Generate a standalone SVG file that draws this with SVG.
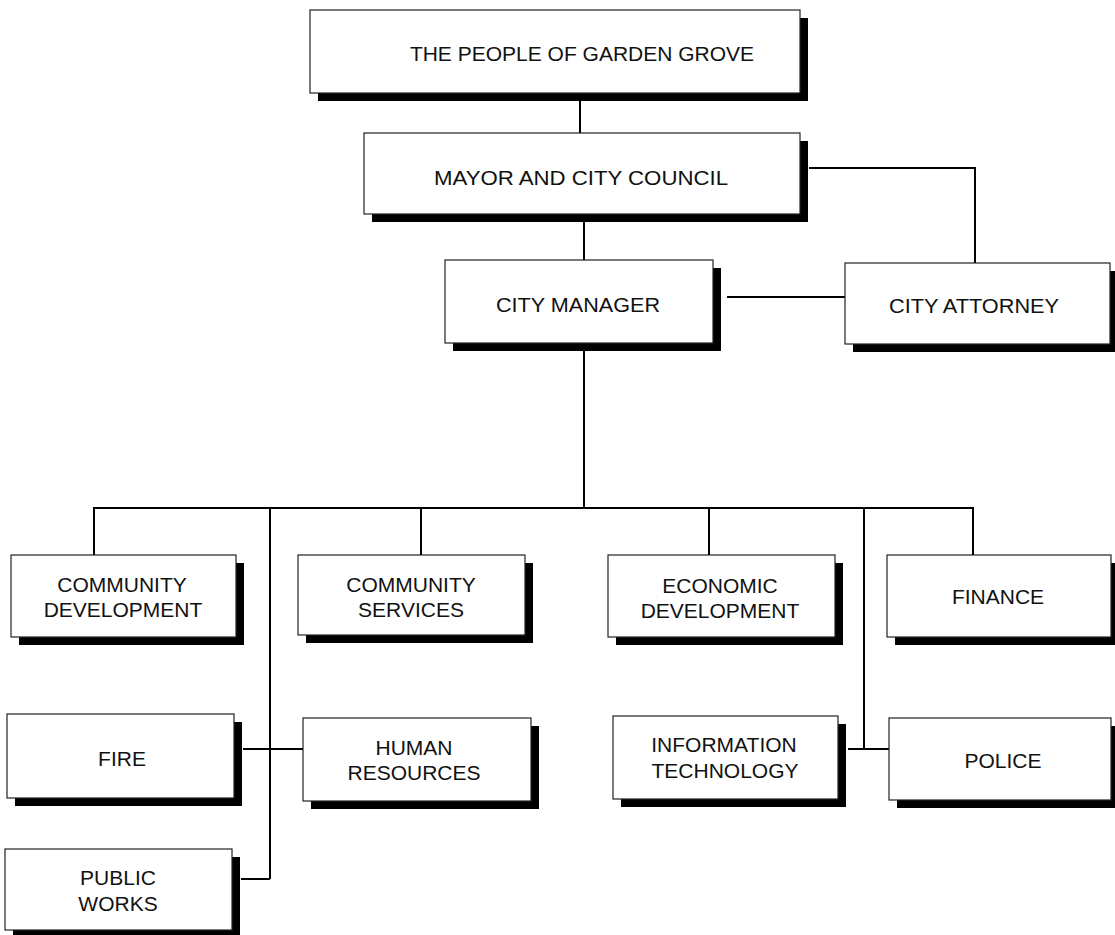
<svg xmlns="http://www.w3.org/2000/svg" width="1115" height="935" viewBox="0 0 1115 935">
<style>
.sh{fill:#000}
.bx{fill:#fff;stroke:#222;stroke-width:1.2}
.t{font-family:"Liberation Sans",Arial,sans-serif;font-size:21px;fill:#111;text-anchor:middle}
.c{stroke:#000;stroke-width:2;fill:none}
</style>
<rect width="1115" height="935" fill="#fff"/>
<g id="connectors">
<path class="c" d="M580 100V133"/>
<path class="c" d="M584 222V260"/>
<path class="c" d="M809 168H975V263"/>
<path class="c" d="M727 297H845"/>
<path class="c" d="M584 350V508"/>
<path class="c" d="M93 508H974"/>
<path class="c" d="M94 508V555M421 508V555M709 508V555M973 508V555"/>
<path class="c" d="M270 508V879M241 879H270M243 749H303"/>
<path class="c" d="M864 508V749M848 749H889"/>
</g>
<g id="people">
<rect class="sh" x="318" y="18" width="490" height="83"/>
<rect class="bx" x="310" y="10" width="490" height="83"/>
<text class="t" x="582" y="61">THE PEOPLE OF GARDEN GROVE</text>
</g>
<g id="mayor">
<rect class="sh" x="372" y="141" width="436" height="81"/>
<rect class="bx" x="364" y="133" width="436" height="81"/>
<text class="t" x="581" y="185" textLength="294" lengthAdjust="spacingAndGlyphs">MAYOR AND CITY COUNCIL</text>
</g>
<g id="manager">
<rect class="sh" x="453" y="268" width="268" height="83"/>
<rect class="bx" x="445" y="260" width="268" height="83"/>
<text class="t" x="578" y="312" textLength="164" lengthAdjust="spacingAndGlyphs">CITY MANAGER</text>
</g>
<g id="attorney">
<rect class="sh" x="853" y="271" width="265" height="81"/>
<rect class="bx" x="845" y="263" width="265" height="81"/>
<text class="t" x="974" y="313" textLength="170" lengthAdjust="spacingAndGlyphs">CITY ATTORNEY</text>
</g>
<g id="commdev">
<rect class="sh" x="19" y="563" width="225" height="82"/>
<rect class="bx" x="11" y="555" width="225" height="82"/>
<text class="t" x="122" y="592">COMMUNITY</text>
<text class="t" x="123" y="617">DEVELOPMENT</text>
</g>
<g id="commsvc">
<rect class="sh" x="306" y="563" width="227" height="80"/>
<rect class="bx" x="298" y="555" width="227" height="80"/>
<text class="t" x="411" y="592">COMMUNITY</text>
<text class="t" x="411" y="617">SERVICES</text>
</g>
<g id="econdev">
<rect class="sh" x="616" y="563" width="227" height="82"/>
<rect class="bx" x="608" y="555" width="227" height="82"/>
<text class="t" x="720" y="593">ECONOMIC</text>
<text class="t" x="720" y="618">DEVELOPMENT</text>
</g>
<g id="finance">
<rect class="sh" x="895" y="563" width="224" height="82"/>
<rect class="bx" x="887" y="555" width="224" height="82"/>
<text class="t" x="998" y="604">FINANCE</text>
</g>
<g id="fire">
<rect class="sh" x="15" y="722" width="227" height="84"/>
<rect class="bx" x="7" y="714" width="227" height="84"/>
<text class="t" x="122" y="766">FIRE</text>
</g>
<g id="hr">
<rect class="sh" x="311" y="726" width="228" height="83"/>
<rect class="bx" x="303" y="718" width="228" height="83"/>
<text class="t" x="414" y="755">HUMAN</text>
<text class="t" x="414" y="780">RESOURCES</text>
</g>
<g id="it">
<rect class="sh" x="621" y="724" width="225" height="83"/>
<rect class="bx" x="613" y="716" width="225" height="83"/>
<text class="t" x="724" y="752">INFORMATION</text>
<text class="t" x="725" y="778">TECHNOLOGY</text>
</g>
<g id="police">
<rect class="sh" x="897" y="726" width="222" height="82"/>
<rect class="bx" x="889" y="718" width="222" height="82"/>
<text class="t" x="1003" y="768">POLICE</text>
</g>
<g id="publicworks">
<rect class="sh" x="13" y="857" width="227" height="81"/>
<rect class="bx" x="5" y="849" width="227" height="81"/>
<text class="t" x="118" y="885">PUBLIC</text>
<text class="t" x="118" y="911">WORKS</text>
</g>
</svg>
